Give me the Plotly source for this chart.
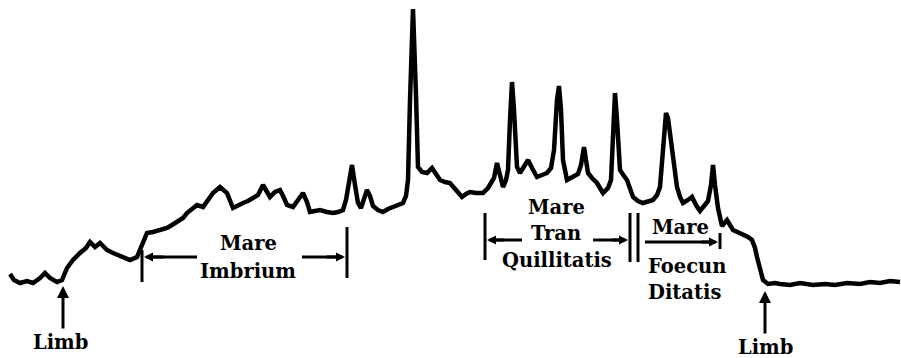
import plotly.graph_objects as go

# Scan position across the lunar disc (horizontal units) and recorder deflection
# (measured downward from the top of the chart strip).
scan_pos = [
    10, 14, 20, 27, 33, 40, 45, 50, 57, 62, 67, 73, 80, 86, 90, 95, 100, 107, 113, 118,
    123, 130, 137, 141, 147, 153, 160, 167, 172, 177, 183, 187, 192, 197, 203, 208, 213,
    220, 227, 233, 238, 243, 248, 253, 258, 263, 268, 270, 275, 280, 284, 287, 293, 298,
    303, 307, 310, 315, 320, 327, 333, 338, 343, 346, 349, 352, 355, 358, 361, 364, 367,
    370, 373, 378, 383, 388, 393, 398, 403, 406, 408, 410, 413, 416, 418, 422, 427, 432,
    436, 440, 445, 450, 456, 462, 466, 470, 476, 483, 488, 491, 494, 497, 500, 503, 506,
    508, 510, 512, 514, 517, 520, 524, 528, 532, 537, 542, 547, 551, 554, 557, 559, 561,
    563, 567, 573, 578, 581, 584, 586, 588, 592, 597, 603, 608, 611, 613, 615, 617, 620,
    624, 627, 633, 638, 643, 648, 653, 657, 660, 663, 666, 668, 670, 672, 675, 677, 680,
    683, 688, 692, 696, 700, 704, 708, 711, 713, 715, 718, 722, 727, 733, 738, 743, 748,
    752, 755, 757, 760, 763, 768, 775, 780, 790, 800, 813, 825, 835, 847, 860, 870, 880,
    890, 900,
]
deflection = [
    274, 280, 283, 281, 283, 278, 273, 278, 282, 280, 268, 260, 253, 248, 242, 247, 243, 250, 253, 255,
    257, 260, 257, 247, 233, 232, 230, 228, 225, 222, 218, 213, 209, 205, 207, 200, 193,
    187, 193, 208, 205, 203, 201, 198, 195, 185, 194, 197, 192, 190, 198, 205, 207, 200,
    193, 202, 212, 211, 210, 212, 213, 212, 210, 200, 182, 165, 185, 203, 208, 198, 190,
    196, 206, 210, 212, 209, 207, 206, 203, 196, 180, 100, 9, 95, 167, 172, 173, 168,
    175, 180, 182, 183, 190, 197, 194, 192, 193, 193, 188, 183, 178, 163, 175, 187, 180,
    170, 120, 82, 110, 167, 173, 166, 160, 168, 177, 175, 173, 168, 150, 100, 86, 110,
    160, 180, 177, 174, 165, 147, 160, 173, 178, 183, 193, 188, 180, 130, 93, 120, 170,
    176, 180, 197, 201, 203, 202, 200, 195, 187, 150, 113, 118, 135, 153, 175, 187, 197,
    203, 200, 197, 205, 211, 206, 201, 185, 165, 185, 208, 226, 220, 230, 232, 235, 237,
    240, 248, 257, 268, 280, 284, 283, 284, 285, 283, 285, 284, 285, 283, 284, 282, 283,
    281, 282,
]

INK = "black"
FONT = dict(family="DejaVu Serif", size=19.5, color=INK)

fig = go.Figure()
fig.add_trace(go.Scatter(
    x=scan_pos, y=deflection, mode="lines",
    line=dict(color=INK, width=4.5), hoverinfo="skip", showlegend=False,
))

shapes = []
annotations = []


def vline(x, y0, y1, w=3):
    shapes.append(dict(type="line", xref="x", yref="y", x0=x, x1=x, y0=y0, y1=y1,
                       line=dict(color=INK, width=w)))


def hline(x0, x1, y, w=3):
    shapes.append(dict(type="line", xref="x", yref="y", x0=x0, x1=x1, y0=y, y1=y,
                       line=dict(color=INK, width=w)))


def arrow(x_tip, y_tip, x_tail, y_tail, size=0.8):
    annotations.append(dict(x=x_tip, y=y_tip, ax=x_tail, ay=y_tail, xref="x", yref="y",
                            axref="x", ayref="y", text="", showarrow=True,
                            arrowhead=2, arrowsize=size, arrowwidth=3, arrowcolor=INK))


def label(x, y, text):
    annotations.append(dict(x=x, y=y, xref="x", yref="y", text="<b>%s</b>" % text,
                            showarrow=False, font=FONT, xanchor="center", yanchor="middle"))


# Limb markers
arrow(63, 286, 63, 330)
label(60, 342, "Limb")
arrow(765, 291, 765, 335)
label(765, 347, "Limb")

# Mare Imbrium bracket
vline(142, 250, 282)
vline(347, 227, 278)
hline(150, 197, 257)
hline(302, 340, 257)
arrow(144, 257, 165, 257, 0.6)
arrow(345, 257, 325, 257, 0.6)
label(248, 243, "Mare")
label(248, 271, "Imbrium")

# Mare Tranquillitatis bracket
vline(485, 213, 260)
vline(630, 213, 262)
vline(638, 213, 262)
hline(492, 522, 240)
hline(593, 622, 240)
arrow(487, 240, 505, 240, 0.6)
arrow(628, 240, 610, 240, 0.6)
label(556, 207, "Mare")
label(556, 233, "Tran")
label(557, 260, "Quillitatis")

# Mare Foecunditatis bracket
vline(720, 233, 249)
hline(645, 712, 242)
arrow(718, 242, 700, 242, 0.6)
label(680, 227, "Mare")
label(687, 266, "Foecun")
label(684, 292, "Ditatis")

fig.update_layout(
    width=901, height=358,
    margin=dict(l=0, r=0, t=0, b=0),
    paper_bgcolor="white", plot_bgcolor="white",
    xaxis=dict(range=[0, 901], visible=False, fixedrange=True),
    yaxis=dict(range=[358, 0], visible=False, fixedrange=True),
    shapes=shapes, annotations=annotations,
)

fig.write_html("out.html")
